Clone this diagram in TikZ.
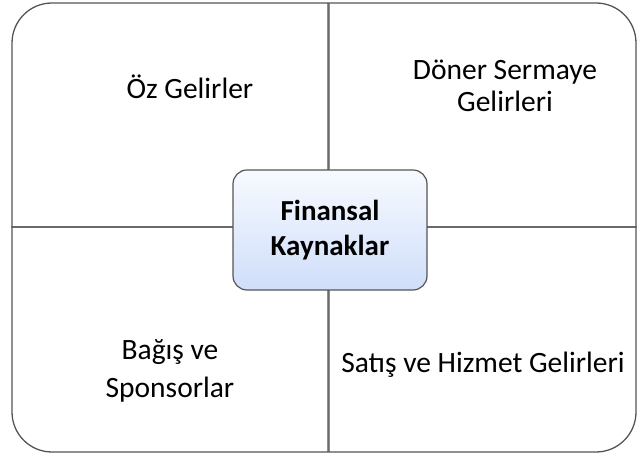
\documentclass[tikz,border=0pt]{standalone}
\usepackage{fontspec}
\setmainfont{Carlito}
\usepackage{tikz}
\usetikzlibrary{shapes.misc}

\definecolor{edge}{RGB}{85,85,85}
\definecolor{hubtop}{RGB}{247,250,255}
\definecolor{hubbot}{RGB}{208,222,250}

\begin{document}
\begin{tikzpicture}[x=1pt, y=1pt,
  quad/.style={draw=edge, line width=1.3pt},
  lbl/.style={align=center, font=\fontsize{29.5}{32}\selectfont, text=black},
  hub/.style={draw=edge, line width=1.2pt, rounded corners=14pt,
    top color=hubtop, bottom color=hubbot, minimum width=194pt,
    minimum height=120pt, align=center,
    font=\fontsize{29}{35}\selectfont\bfseries}]
\useasboundingbox (0,0) rectangle (638,457);

%quadrants
  \draw[quad] (328,230) -- (12,230) -- (12,414)
    arc[start angle=180, end angle=90, radius=40] -- (328,454) -- cycle;
  \draw[quad] (329,230) -- (329,454) -- (596,454)
    arc[start angle=90, end angle=0, radius=40] -- (636,230) -- cycle;
  \draw[quad] (328,230) -- (12,230) -- (12,45)
    arc[start angle=180, end angle=270, radius=40] -- (328,5) -- cycle;
  \draw[quad] (329,230) -- (329,5) -- (596,5)
    arc[start angle=270, end angle=360, radius=40] -- (636,230) -- cycle;

%labels
  \node[lbl] (oz) at (190,370) {Öz Gelirler};
  \node[lbl] (doner) at (505,371) {Döner Sermaye\\Gelirleri};
  \node[lbl, font=\fontsize{29.5}{38}\selectfont] (bagis) at (170,86) {Bağış ve\\Sponsorlar};
  \node[lbl] (satis) at (483,92) {Satış ve Hizmet Gelirleri};

%center
  \node[hub] (kaynak) at (330,227) {Finansal\\Kaynaklar};
\end{tikzpicture}
\end{document}
